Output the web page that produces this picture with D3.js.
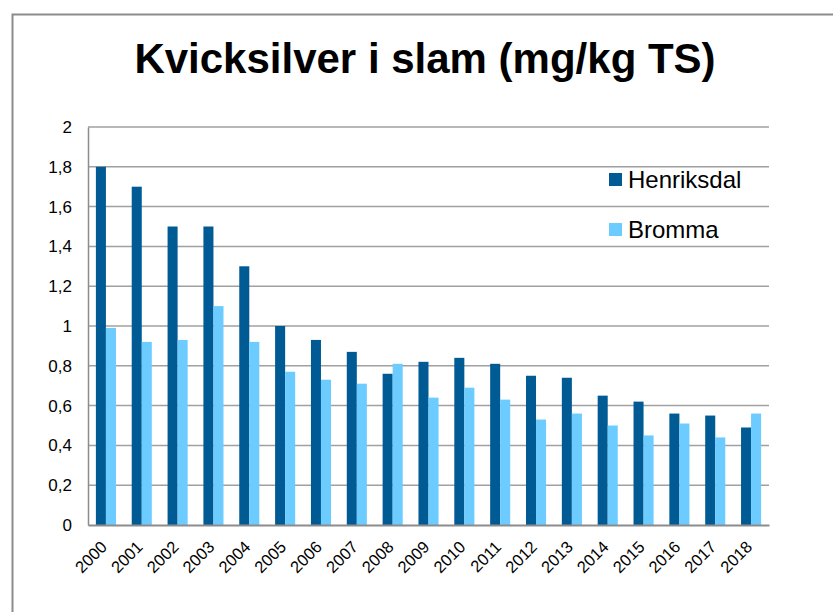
<!DOCTYPE html>
<html lang="sv">
<head>
  <meta charset="UTF-8">
  <title>Kvicksilver i slam</title>
  <script src="https://d3js.org/d3.v7.min.js"></script>
  <style>
    body { margin: 0; background: #fff; }
    svg { display: block; font-family: "Liberation Sans", Arial, sans-serif; }
    .grid line { stroke: #a0a0a0; stroke-width: 1.5px; }
  </style>
</head>
<body>
  <div id="chart"></div>

  <script>
    // Data
    const years = ["2000", "2001", "2002", "2003", "2004", "2005", "2006", "2007", "2008", "2009",
                   "2010", "2011", "2012", "2013", "2014", "2015", "2016", "2017", "2018"];
    const seriesNames = ["Henriksdal", "Bromma"];
    const henriksdal = [1.80, 1.70, 1.50, 1.50, 1.30, 1.00, 0.93, 0.87, 0.76, 0.82,
                        0.84, 0.81, 0.75, 0.74, 0.65, 0.62, 0.56, 0.55, 0.49];
    const bromma = [0.99, 0.92, 0.93, 1.10, 0.92, 0.77, 0.73, 0.71, 0.81, 0.64,
                    0.69, 0.63, 0.53, 0.56, 0.50, 0.45, 0.51, 0.44, 0.56];
    const yTicks = [0, 0.2, 0.4, 0.6, 0.8, 1, 1.2, 1.4, 1.6, 1.8, 2];
    const colors = ["#005b94", "#6ccbff"];

    const W = 833, H = 612;
    const margin = { top: 127, right: 64, bottom: 87, left: 88 };
    const width = W - margin.left - margin.right;
    const height = H - margin.top - margin.bottom;

    const svg = d3.select("#chart").append("svg")
      .attr("width", W)
      .attr("height", H);

    // outer chart frame (runs off the right and bottom edge)
    svg.append("rect")
      .attr("x", 12.5).attr("y", 14.5)
      .attr("width", W + 20).attr("height", H + 20)
      .attr("fill", "#fff")
      .attr("stroke", "#8c8c8c")
      .attr("stroke-width", 2);

    // title
    svg.append("text")
      .attr("x", 425)
      .attr("y", 73)
      .attr("text-anchor", "middle")
      .style("font-size", "42px")
      .style("font-weight", "bold")
      .attr("fill", "#000")
      .text("Kvicksilver i slam (mg/kg TS)");

    const g = svg.append("g").attr("transform", `translate(${margin.left},${margin.top})`);

    const x0 = d3.scaleBand().domain(years).range([0, width]).padding(0);
    const x1 = d3.scaleBand().domain(seriesNames)
      .range([x0.bandwidth() * 0.22, x0.bandwidth() * 0.78]).padding(0);
    const y = d3.scaleLinear().domain([0, 2]).range([height, 0]);

    // horizontal gridlines
    g.append("g").attr("class", "grid")
      .selectAll("line")
      .data(yTicks.filter(d => d > 0))
      .join("line")
      .attr("x1", 0).attr("x2", width)
      .attr("y1", d => y(d)).attr("y2", d => y(d));

    // bars
    const seriesData = [henriksdal, bromma];
    seriesNames.forEach((name, s) => {
      g.append("g")
        .selectAll("rect")
        .data(years.map((yr, i) => ({ year: yr, value: seriesData[s][i] })))
        .join("rect")
        .attr("x", d => x0(d.year) + x1(name))
        .attr("y", d => y(d.value))
        .attr("width", x1.bandwidth())
        .attr("height", d => height - y(d.value))
        .attr("fill", colors[s]);
    });

    // y axis
    const yAxis = g.append("g")
      .call(d3.axisLeft(y).tickValues(yTicks).tickSize(0).tickPadding(16)
        .tickFormat(d => String(d).replace(".", ",")));
    yAxis.select(".domain").attr("stroke", "#8c8c8c").attr("stroke-width", 1.5);
    yAxis.selectAll("text")
      .style("font-size", "17px")
      .style("font-family", "\"Liberation Sans\", Arial, sans-serif")
      .attr("fill", "#000");

    // x axis
    const xAxis = g.append("g")
      .attr("transform", `translate(0,${height})`)
      .call(d3.axisBottom(x0).tickSize(0));
    xAxis.select(".domain").attr("stroke", "#8c8c8c").attr("stroke-width", 2);
    xAxis.selectAll("text")
      .style("font-size", "16.5px")
      .style("font-family", "\"Liberation Sans\", Arial, sans-serif")
      .attr("fill", "#000")
      .attr("text-anchor", "end")
      .attr("y", 0)
      .attr("dy", "0.35em")
      .attr("transform", "translate(-2,19) rotate(-45)");

    // legend
    const legend = svg.append("g").attr("transform", "translate(609,173)");
    seriesNames.forEach((name, i) => {
      const row = legend.append("g").attr("transform", `translate(0,${i * 50})`);
      row.append("rect")
        .attr("width", 13).attr("height", 13)
        .attr("fill", colors[i]);
      row.append("text")
        .attr("x", 19).attr("y", 7)
        .attr("dy", "0.35em")
        .style("font-size", "24px")
        .attr("fill", "#000")
        .text(name);
    });
  </script>
</body>
</html>
